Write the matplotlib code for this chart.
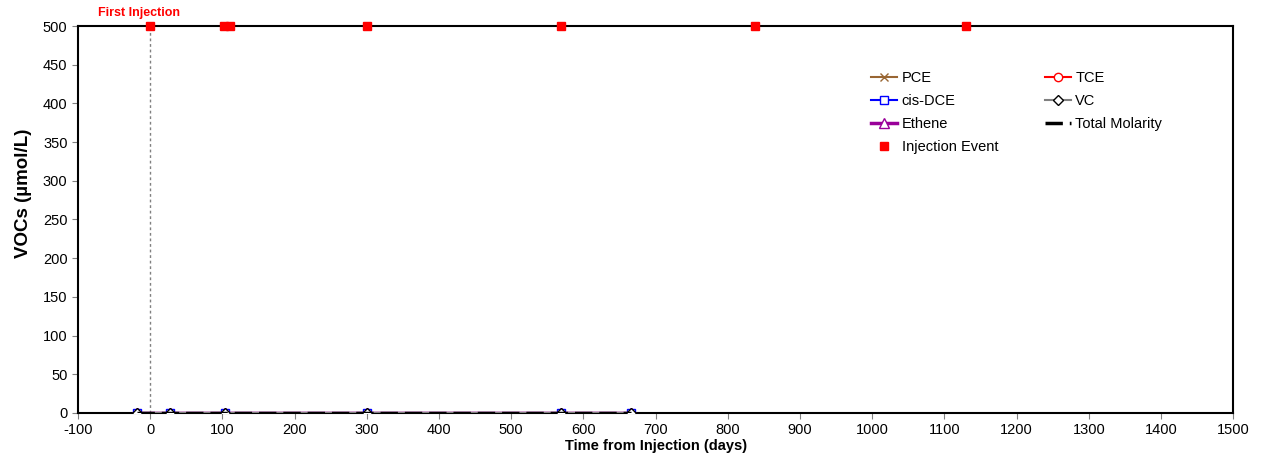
import numpy as np
import matplotlib.pyplot as plt

plt.rcParams['font.family'] = ['Liberation Sans', 'DejaVu Sans']
plt.rcParams['axes.unicode_minus'] = False

# sampling days and concentrations (umol/L)
days = [-18, 28, 104, 300, 569, 666]
pce = [0, 0, 0, 0, 0, 0]
tce = [0, 0, 0, 0, 0, 0]
cis_dce = [0, 0, 0, 0, 0, 0]
vc = [0, 0, 0, 0, 0, 0]
ethene = [0, 0, 0, 0, 0, 0]
total_molarity = [0, 0, 0, 0, 0, 0]

# injection events
inj_days = [0, 102, 111, 300, 569, 838, 1130]
inj_level = [500, 500, 500, 500, 500, 500, 500]

fig = plt.figure(figsize=(12.78, 4.65), dpi=100)
ax = fig.add_axes([0.061, 0.112, 0.904, 0.832])

ax.axvline(0, color='#808080', ls=(0, (2, 2)), lw=1, zorder=1)

ax.plot(days, pce, color='#996633', marker='x', ms=6, lw=1.5, label='PCE', zorder=3)
ax.plot(days, tce, color='red', marker='o', ms=6, mfc='white', lw=1.5, label='TCE', zorder=3)
ax.plot(days, cis_dce, color='blue', marker='s', ms=6, mfc='white', lw=1.5, label='cis-DCE', zorder=3)
ax.plot(days, vc, color='#808080', marker='D', ms=5, mfc='white', mec='black', lw=1.5, label='VC', zorder=4)
ax.plot(days, ethene, color='#990099', marker='^', ms=7, mfc='white', lw=2.5, label='Ethene', zorder=3)
ax.plot(days, total_molarity, color='black', ls=(0, (5, 2)), lw=2.5, label='Total Molarity', zorder=5)
ax.plot(inj_days, inj_level, ls='none', marker='s', ms=6, color='red', label='Injection Event',
        clip_on=False, zorder=6)

ax.text(-15, 509, 'First Injection', color='red', fontweight='bold', fontsize=9,
        ha='center', va='bottom', clip_on=False)

ax.set_xlim(-100, 1500)
ax.set_ylim(0, 500)
ax.set_xticks(np.arange(-100, 1501, 100))
ax.set_yticks(np.arange(0, 501, 50))
ax.tick_params(axis='both', labelsize=10.5, direction='out', length=4, color='#808080')
for s in ax.spines.values():
    s.set_linewidth(1.5)

ax.set_xlabel('Time from Injection (days)', fontweight='bold', fontsize=10.5, labelpad=1)
ax.set_ylabel('VOCs (µmol/L)', fontweight='bold', fontsize=13.5)
ax.yaxis.set_label_coords(-0.040, 0.568)

h, l = ax.get_legend_handles_labels()
order = [0, 2, 4, 6, 1, 3, 5]
ax.legend([h[i] for i in order], [l[i] for i in order], ncol=2, frameon=False,
          loc='upper left', bbox_to_anchor=(0.675, 0.918), fontsize=10.5,
          handlelength=1.8, handletextpad=0.3, columnspacing=3.2, labelspacing=0.62)

fig.savefig('out.png', dpi=100)
